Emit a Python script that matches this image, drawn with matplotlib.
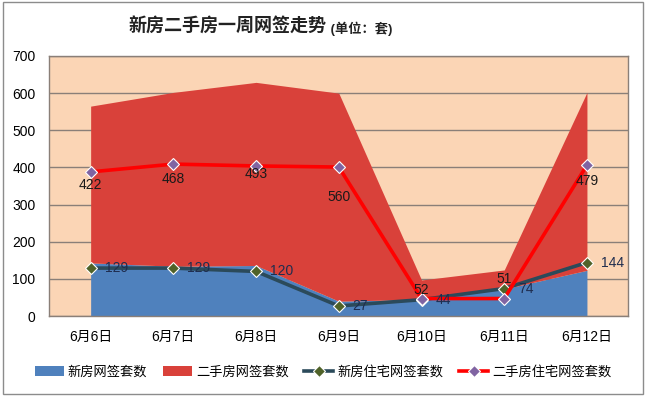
import matplotlib.pyplot as plt
from matplotlib.patches import Rectangle

plt.rcParams['font.family'] = ['Liberation Sans', 'Noto Sans CJK SC', 'DejaVu Sans']

dates = ['6月6日', '6月7日', '6月8日', '6月9日', '6月10日', '6月11日', '6月12日']
new_total = [143, 134, 136, 40, 45, 73, 123]
second_total = [422, 468, 493, 560, 52, 51, 479]
new_resid = [129, 129, 120, 27, 44, 74, 144]
second_resid = [388, 409, 404, 401, 47, 47, 406]
yticks = [0, 100, 200, 300, 400, 500, 600, 700]

x = list(range(len(dates)))
stack_top = [a + b for a, b in zip(new_total, second_total)]

fig = plt.figure(figsize=(6.46, 3.96), dpi=100)
fig.patches.append(Rectangle((0.004, 0.006), 0.992, 0.988, transform=fig.transFigure,
                             fill=False, edgecolor='#8c8c8c', linewidth=1))
ax = fig.add_axes([0.0763, 0.202, 0.8963, 0.6566])
ax.set_facecolor('#fbd5b5')

ax.fill_between(x, 0, new_total, color='#4f81bd', linewidth=0, zorder=2, label='新房网签套数')
ax.fill_between(x, new_total, stack_top, color='#d9413a', linewidth=0, zorder=2, label='二手房网签套数')

ax.plot(x, new_resid, color='#2b4a5a', linewidth=2.6, marker='D', markersize=6,
        markerfacecolor='#4f6228', markeredgecolor='white', markeredgewidth=0.8,
        zorder=4, label='新房住宅网签套数')
ax.plot(x, second_resid, color='#ff0000', linewidth=2.6, marker='D', markersize=6,
        markerfacecolor='#8064a2', markeredgecolor='white', markeredgewidth=0.8,
        zorder=5, label='二手房住宅网签套数')

for i in x:
    mid = new_total[i] + second_total[i] / 2
    ax.text(i, mid, str(second_total[i]), ha='center', va='center', fontsize=10,
            color='#1a1a1a', zorder=6)
    ax.annotate(str(new_resid[i]), (i, new_resid[i]), xytext=(10, 0),
                textcoords='offset points', ha='left', va='center', fontsize=10,
                color='#1f2d4f', zorder=6)

ax.set_xlim(-0.5, len(dates) - 0.5)
ax.set_ylim(0, 700)
ax.set_yticks(yticks)
ax.set_xticks(x)
ax.set_xticklabels(dates, fontsize=10)
ax.tick_params(axis='y', length=0, labelsize=10, pad=10)
ax.tick_params(axis='x', length=0, pad=10)
ax.yaxis.grid(True, color='#8a7f78', linewidth=1, zorder=1)
ax.set_axisbelow(True)
for s in ax.spines.values():
    s.set_color('#8a7f78')
    s.set_linewidth(1)

fig.text(0.506, 0.932, '新房二手房一周网签走势', ha='right', va='center', fontsize=13,
         fontweight='bold', color='#222222')
fig.text(0.506, 0.928, ' (单位：套)', ha='left', va='center', fontsize=9.5,
         fontweight='bold', color='#222222')

fig.legend(loc='center', bbox_to_anchor=(0.5, 0.06), ncol=4, frameon=False,
           fontsize=9.5, handlelength=2.2, handleheight=0.7, columnspacing=1.2,
           handletextpad=0.3)

fig.savefig('out.png', dpi=100)
